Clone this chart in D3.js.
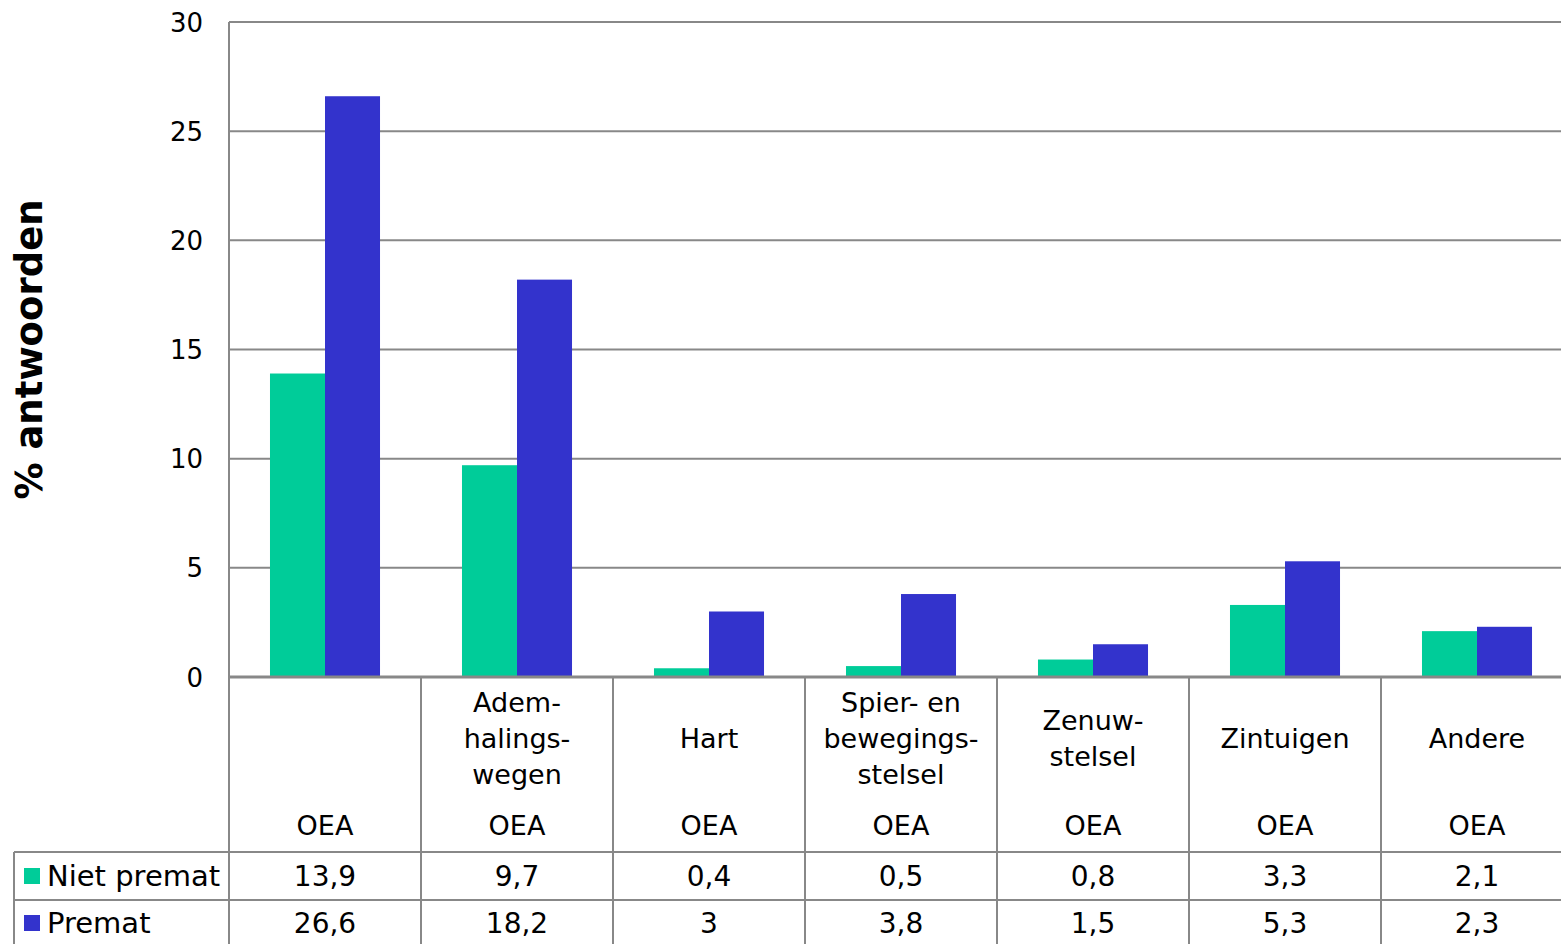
<!DOCTYPE html>
<html>
<head>
<meta charset="utf-8">
<script src="https://cdn.jsdelivr.net/npm/d3@7"></script>
<style>
  html, body { margin: 0; padding: 0; background: #fff; overflow: hidden; }
  svg { display: block; font-family: "DejaVu Sans", Verdana, sans-serif; }
</style>
</head>
<body>
<svg id="chart" width="1561" height="944"></svg>
<script>
// ---- data ----
const categories = [[], ["Adem-", "halings-", "wegen"], ["Hart"], ["Spier- en", "bewegings-", "stelsel"], ["Zenuw-", "stelsel"], ["Zintuigen"], ["Andere"]];
const subLabels = ["OEA", "OEA", "OEA", "OEA", "OEA", "OEA", "OEA"];
const seriesNames = ["Niet premat", "Premat"];
const nietPremat = [13.9, 9.7, 0.4, 0.5, 0.8, 3.3, 2.1];
const premat = [26.6, 18.2, 3, 3.8, 1.5, 5.3, 2.3];
const yTicks = [0, 5, 10, 15, 20, 25, 30];
const colors = ["#00CC99", "#3333CC"];
const yTitle = "% antwoorden";

(function () {
const fmt = v => String(v).replace(".", ",");

// ---- layout ----
const svg = d3.select("#chart");
const left = 229, groupW = 192, plotTop = 22, base = 677;
const plotRight = left + groupW * categories.length;
const gridColor = "#888888";

const idx = d3.range(categories.length);
const x0 = d3.scaleBand().domain(idx).range([left, plotRight]).paddingInner(0).paddingOuter(0);
const x1 = d3.scaleBand().domain(seriesNames).range([0, x0.bandwidth()]).paddingInner(0).paddingOuter(0.745);
const y = d3.scaleLinear().domain([0, 30]).range([base, plotTop]);

const values = [nietPremat, premat];

// gridlines
svg.append("g").selectAll("line").data(yTicks.filter(t => t > 0)).join("line")
  .attr("x1", left).attr("x2", plotRight)
  .attr("y1", d => y(d)).attr("y2", d => y(d))
  .attr("stroke", gridColor).attr("stroke-width", 2);

// y axis labels
const yAxis = d3.axisLeft(y).tickValues(yTicks).tickSize(0).tickPadding(0);
const ya = svg.append("g").attr("transform", `translate(${left - 26},0)`).call(yAxis);
ya.select(".domain").remove();
ya.attr("font-size", null).attr("font-family", null);
ya.selectAll("text").attr("font-size", 26).attr("fill", "#000").attr("dy", "0.35em");

// y title
svg.append("text")
  .attr("transform", `translate(42,${(plotTop + base) / 2}) rotate(-90)`)
  .attr("text-anchor", "middle")
  .attr("font-size", 37).attr("font-weight", "bold")
  .text(yTitle);

// bars
const groups = svg.append("g").selectAll("g").data(idx).join("g")
  .attr("transform", i => `translate(${x0(i)},0)`);
groups.selectAll("rect").data(i => seriesNames.map((s, k) => ({ s, k, v: values[k][i] }))).join("rect")
  .attr("x", d => x1(d.s)).attr("width", x1.bandwidth())
  .attr("y", d => y(d.v)).attr("height", d => y(0) - y(d.v))
  .attr("fill", d => colors[d.k]);

// table lines
const rowTop1 = 852, rowTop2 = 900, tableBottom = 944, legendLeft = 14;
const lines = svg.append("g").attr("stroke", gridColor).attr("stroke-width", 2);
lines.append("line").attr("x1", left).attr("x2", left).attr("y1", plotTop).attr("y2", tableBottom);
lines.selectAll(".v").data(idx.slice(1)).join("line").attr("class", "v")
  .attr("x1", i => x0(i)).attr("x2", i => x0(i)).attr("y1", base).attr("y2", tableBottom);
lines.append("line").attr("x1", legendLeft).attr("x2", plotRight).attr("y1", rowTop1).attr("y2", rowTop1);
lines.append("line").attr("x1", legendLeft).attr("x2", plotRight).attr("y1", rowTop2).attr("y2", rowTop2);
lines.append("line").attr("x1", legendLeft).attr("x2", legendLeft).attr("y1", rowTop1).attr("y2", tableBottom);
lines.append("line").attr("x1", left).attr("x2", plotRight).attr("y1", base).attr("y2", base).attr("stroke-width", 3);

// category labels
const lineH = 36;
const catG = svg.append("g").attr("font-size", 27).attr("text-anchor", "middle");
idx.forEach(i => {
  const lbl = categories[i];
  const cx = x0(i) + x0.bandwidth() / 2;
  const t = catG.append("text").attr("x", cx).attr("y", 739 - (lbl.length - 1) * lineH / 2);
  lbl.forEach((ln, j) => t.append("tspan").attr("x", cx).attr("dy", j === 0 ? "0.35em" : lineH).text(ln));
  catG.append("text").attr("x", cx).attr("y", 826).attr("dy", "0.35em").text(subLabels[i]);
});

// value rows
const rowsY = [876, 923];
const valG = svg.append("g").attr("font-size", 28).attr("text-anchor", "middle");
values.forEach((arr, k) => {
  valG.selectAll(null).data(idx).join("text")
    .attr("x", i => x0(i) + x0.bandwidth() / 2).attr("y", rowsY[k]).attr("dy", "0.35em")
    .text(i => fmt(arr[i]));
});

// legend keys
const legG = svg.append("g");
seriesNames.forEach((s, k) => {
  legG.append("rect").attr("x", 24).attr("y", rowsY[k] - 8).attr("width", 16).attr("height", 16).attr("fill", colors[k]);
  legG.append("text").attr("x", 47).attr("y", rowsY[k]).attr("dy", "0.35em").attr("font-size", 29).text(s);
});
})();
</script>
</body>
</html>
